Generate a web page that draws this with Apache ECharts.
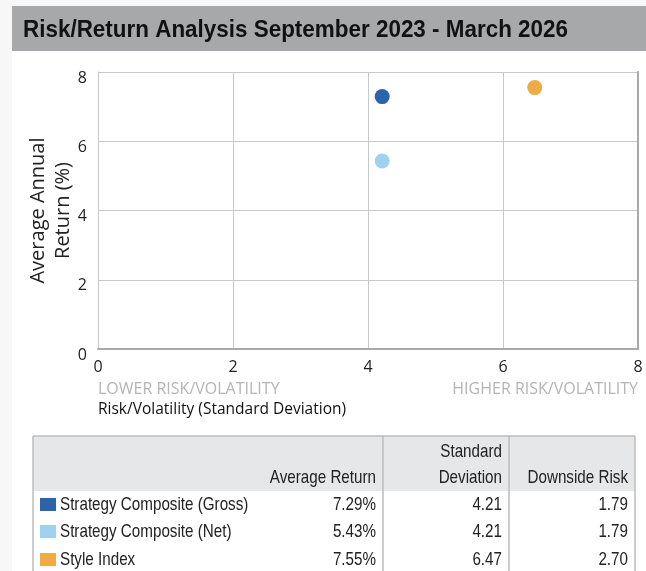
<!DOCTYPE html>
<html>
<head>
<meta charset="utf-8">
<script src="https://cdn.jsdelivr.net/npm/echarts@6/dist/echarts.min.js"></script>
<style>
html,body{margin:0;padding:0;background:#fff;}
#chart{width:646px;height:571px;}
</style>
</head>
<body>
<div id="chart"></div>
<script>
// ---- data ----
const seriesNames = ['Strategy Composite (Gross)', 'Strategy Composite (Net)', 'Style Index'];
const seriesColors = ['#2b64ac', '#9fd1f0', '#efab45'];
const stdDev = [4.21, 4.21, 6.47];
const avgReturn = [7.29, 5.43, 7.55];
const downsideRisk = [1.79, 1.79, 2.70];
const tableHeaders = [['Average Return'], ['Standard', 'Deviation'], ['Downside Risk']];
const titleText = 'Risk/Return Analysis September 2023 - March 2026';
const xAxisTitle = 'Risk/Volatility (Standard Deviation)';
const lowLabel = 'LOWER RISK/VOLATILITY';
const highLabel = 'HIGHER RISK/VOLATILITY';
const yAxisTitle = 'Average Annual\nReturn (%)';

const arial = '"Liberation Sans", Arial, sans-serif';
const sans = '"Open Sans", "Noto Sans", sans-serif';
const NARROW = 0.8;
const TFONT = '19px ' + arial;

const chart = echarts.init(document.getElementById('chart'), null, {renderer: 'canvas'});

const graphics = [];
// page strips
graphics.push({type: 'rect', shape: {x: 0, y: 0, width: 12, height: 571}, style: {fill: '#f7f7f7'}, silent: true, z: 0});
graphics.push({type: 'rect', shape: {x: 0, y: 0, width: 646, height: 6}, style: {fill: '#f7f7f7'}, silent: true, z: 0});
// title bar
graphics.push({type: 'rect', shape: {x: 12, y: 6, width: 634, height: 45}, style: {fill: '#a7a8aa'}, silent: true, z: 1});
graphics.push({type: 'text', x: 23, y: 30, scaleX: 0.935, style: {text: titleText, font: 'bold 24px ' + arial, fill: '#111', textVerticalAlign: 'middle'}, silent: true, z: 2});

// axis side labels
graphics.push({type: 'text', x: 98, y: 389, style: {text: lowLabel, font: '16px ' + sans, fill: '#b5b5b5', textVerticalAlign: 'middle'}, silent: true});
graphics.push({type: 'text', x: 638, y: 389, style: {text: highLabel, font: '16px ' + sans, fill: '#b5b5b5', textAlign: 'right', textVerticalAlign: 'middle'}, silent: true});
graphics.push({type: 'text', x: 98, y: 410, style: {text: xAxisTitle, font: '15.5px ' + sans, fill: '#111', textVerticalAlign: 'middle'}, silent: true});

// table
const tL = 33, tR = 635, tT = 436, hB = 491, d1 = 383, d2 = 509, tBot = 571;
const border = '#bdbdbd';
graphics.push({type: 'rect', shape: {x: tL, y: tT, width: tR - tL, height: hB - tT}, style: {fill: '#e6e7e8'}, silent: true});
graphics.push({type: 'line', shape: {x1: tL, y1: tT, x2: tR, y2: tT}, style: {stroke: border, lineWidth: 1.5}, silent: true});
[tL, d1, d2, tR].forEach(x => {
  graphics.push({type: 'line', shape: {x1: x, y1: tT, x2: x, y2: tBot}, style: {stroke: border, lineWidth: 1.5}, silent: true});
});
const colRight = [376, 502, 628];
tableHeaders.forEach((lines, ci) => {
  lines.forEach((ln, li) => {
    const y = 478 - (lines.length - 1 - li) * 26;
    graphics.push({type: 'text', x: colRight[ci], y: y, scaleX: NARROW, style: {text: ln, font: TFONT, fill: '#222', textAlign: 'right', textVerticalAlign: 'middle'}, silent: true});
  });
});
const rowY = [505, 532, 560];
seriesNames.forEach((name, i) => {
  graphics.push({type: 'rect', shape: {x: 40, y: rowY[i] - 7, width: 16, height: 13}, style: {fill: seriesColors[i]}, silent: true});
  graphics.push({type: 'text', x: 60, y: rowY[i], scaleX: NARROW, style: {text: name, font: TFONT, fill: '#222', textVerticalAlign: 'middle'}, silent: true});
  const vals = [avgReturn[i].toFixed(2) + '%', stdDev[i].toFixed(2), downsideRisk[i].toFixed(2)];
  vals.forEach((v, ci) => {
    graphics.push({type: 'text', x: colRight[ci], y: rowY[i], scaleX: NARROW, style: {text: v, font: TFONT, fill: '#222', textAlign: 'right', textVerticalAlign: 'middle'}, silent: true});
  });
});

const option = {
  backgroundColor: '#fff',
  animation: false,
  grid: {left: 98, right: 8, top: 72, bottom: 222, show: false},
  xAxis: {
    type: 'value', min: 0, max: 8, interval: 2,
    axisLine: {show: true, lineStyle: {color: '#a9a9a9', width: 2}},
    axisTick: {show: false},
    splitLine: {show: true, lineStyle: {color: '#c8c8c8', width: 1}},
    axisLabel: {color: '#222', fontSize: 16, fontFamily: sans, margin: 10}
  },
  yAxis: [{
    type: 'value', min: 0, max: 8, interval: 2,
    name: yAxisTitle, nameLocation: 'middle', nameGap: 22, nameMoveOverlap: false,
    nameTextStyle: {fontSize: 20, lineHeight: 25, color: '#222', fontFamily: sans},
    axisLine: {show: true, lineStyle: {color: '#c8c8c8', width: 1}},
    axisTick: {show: false},
    splitLine: {show: true, lineStyle: {color: '#c8c8c8', width: 1}},
    axisLabel: {color: '#222', fontSize: 16, fontFamily: sans, margin: 11, verticalAlign: 'top', lineHeight: 12}
  }, {
    type: 'value', min: 0, max: 8, interval: 2, position: 'right',
    axisLine: {show: true, lineStyle: {color: '#a9a9a9', width: 2}},
    axisTick: {show: false}, axisLabel: {show: false}, splitLine: {show: false}
  }],
  series: seriesNames.map((name, i) => ({
    name: name, type: 'scatter', symbol: 'circle', symbolSize: 15,
    itemStyle: {color: seriesColors[i], opacity: 1},
    data: [[stdDev[i], avgReturn[i]]]
  })),
  graphic: graphics
};
chart.setOption(option);
</script>
</body>
</html>
